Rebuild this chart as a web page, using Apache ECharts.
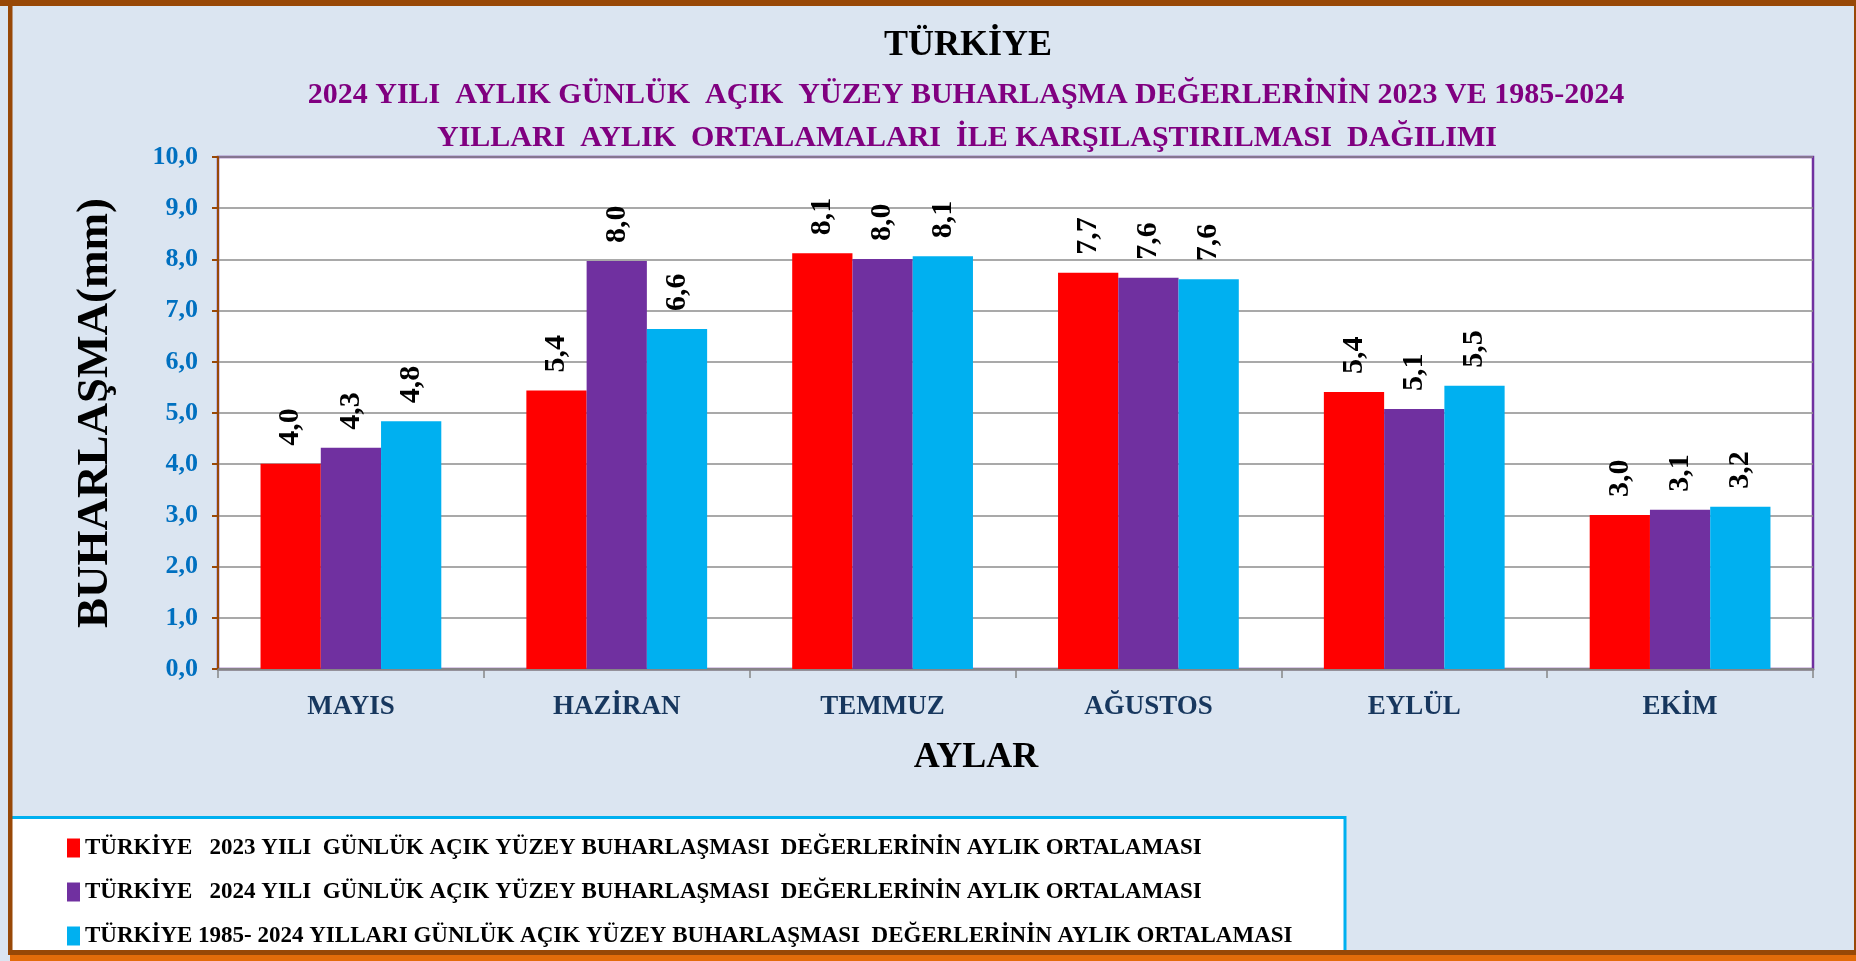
<!DOCTYPE html>
<html>
<head>
<meta charset="utf-8">
<script src="https://cdn.jsdelivr.net/npm/echarts@6/dist/echarts.min.js"></script>
<style>
html,body{margin:0;padding:0;background:#DBE5F1;}
#chart{width:1856px;height:961px;}
</style>
</head>
<body>
<div id="chart"></div>
<script>
const months = ['MAYIS', 'HAZİRAN', 'TEMMUZ', 'AĞUSTOS', 'EYLÜL', 'EKİM'];
const values2023 = [4.01, 5.44, 8.12, 7.74, 5.41, 3.01];
const values2024 = [4.32, 7.97, 8.01, 7.64, 5.08, 3.11];
const valuesNormal = [4.84, 6.64, 8.06, 7.61, 5.53, 3.17];
const seriesNames = [
  'TÜRKİYE   2023 YILI  GÜNLÜK AÇIK YÜZEY BUHARLAŞMASI  DEĞERLERİNİN AYLIK ORTALAMASI',
  'TÜRKİYE   2024 YILI  GÜNLÜK AÇIK YÜZEY BUHARLAŞMASI  DEĞERLERİNİN AYLIK ORTALAMASI',
  'TÜRKİYE 1985- 2024 YILLARI GÜNLÜK AÇIK YÜZEY BUHARLAŞMASI  DEĞERLERİNİN AYLIK ORTALAMASI'
];
const seriesColors = ['#FF0000', '#7030A0', '#00B0F0'];
const titleMain = 'TÜRKİYE';
const titleLine1 = '2024 YILI  AYLIK GÜNLÜK  AÇIK  YÜZEY BUHARLAŞMA DEĞERLERİNİN 2023 VE 1985-2024';
const titleLine2 = 'YILLARI  AYLIK  ORTALAMALARI  İLE KARŞILAŞTIRILMASI  DAĞILIMI';
const yAxisTitle = 'BUHARLAŞMA(mm)';
const xAxisTitle = 'AYLAR';

const serif = '"Liberation Serif", "Times New Roman", serif';
const fmt = v => Number(v).toFixed(1).replace('.', ',');

const chart = echarts.init(document.getElementById('chart'), null, {renderer: 'canvas'});

function makeSeries(i, data) {
  return {
    name: seriesNames[i],
    type: 'bar',
    data: data,
    barGap: '0%',
    barCategoryGap: '32%',
    itemStyle: {color: seriesColors[i]},
    label: {
      show: true,
      position: 'top',
      rotate: 90,
      align: 'left',
      verticalAlign: 'middle',
      distance: 18,
      formatter: p => fmt(p.value),
      fontFamily: serif,
      fontWeight: 'bold',
      fontSize: 30,
      color: '#000'
    },
    z: 3
  };
}

chart.setOption({
  backgroundColor: '#DBE5F1',
  animation: false,
  grid: {
    left: 218, right: 43, top: 157, bottom: 292,
    show: true,
    backgroundColor: '#FFFFFF',
    borderColor: '#7030A0',
    borderWidth: 2.5
  },
  legend: {
    orient: 'vertical',
    left: 62,
    top: 831,
    itemWidth: 13,
    itemHeight: 19,
    itemGap: 20,
    icon: 'rect',
    z: 10,
    textStyle: {fontFamily: serif, fontWeight: 'bold', fontSize: 23, color: '#000', lineHeight: 24},
    data: seriesNames
  },
  xAxis: {
    type: 'category',
    data: months,
    axisLine: {lineStyle: {color: '#868686', width: 2.5}},
    axisTick: {show: true, length: 9, lineStyle: {color: '#868686', width: 1.5}},
    axisLabel: {margin: 25, fontFamily: serif, fontWeight: 'bold', fontSize: 27, color: '#17375E'},
    splitLine: {show: false}
  },
  yAxis: {
    type: 'value',
    min: 0, max: 10, interval: 1,
    name: yAxisTitle,
    nameLocation: 'middle',
    nameGap: 100,
    nameTextStyle: {fontFamily: serif, fontWeight: 'bold', fontSize: 45, color: '#000'},
    axisLine: {show: true, lineStyle: {color: '#984807', width: 2}},
    axisTick: {show: true, length: 6, lineStyle: {color: '#984807', width: 2}},
    axisLabel: {margin: 20, formatter: v => fmt(v), fontFamily: serif, fontWeight: 'bold', fontSize: 26, color: '#0070C0'},
    splitLine: {show: true, lineStyle: {color: '#8C8C8C', width: 1.5}}
  },
  graphic: [
    {type: 'rect', z: 0, shape: {x: 10, y: 817.5, width: 1335, height: 134}, style: {fill: '#FFFFFF', stroke: '#00B0F0', lineWidth: 3}},
    {type: 'rect', z: 1, shape: {x: 0, y: 0, width: 1856, height: 6}, style: {fill: '#984807'}},
    {type: 'rect', z: 1, shape: {x: 8, y: 0, width: 4.5, height: 955}, style: {fill: '#984807'}},
    {type: 'rect', z: 1, shape: {x: 1854, y: 0, width: 2, height: 955}, style: {fill: '#984807'}},
    {type: 'rect', z: 1, shape: {x: 8, y: 950, width: 1848, height: 5}, style: {fill: '#984807'}},
    {type: 'rect', z: 1, shape: {x: 10, y: 955, width: 1846, height: 6}, style: {fill: '#E36C0A'}},
    {type: 'text', z: 5, x: 968, y: 46, style: {text: titleMain, fontFamily: serif, fontWeight: 'bold', fontSize: 36, fill: '#000', align: 'center', verticalAlign: 'middle'}},
    {type: 'text', z: 5, x: 966, y: 95, style: {text: titleLine1, fontFamily: serif, fontWeight: 'bold', fontSize: 30, fill: '#800080', align: 'center', verticalAlign: 'middle'}},
    {type: 'text', z: 5, x: 967, y: 138, style: {text: titleLine2, fontFamily: serif, fontWeight: 'bold', fontSize: 30, fill: '#800080', align: 'center', verticalAlign: 'middle'}},
    {type: 'text', z: 5, x: 976, y: 758, style: {text: xAxisTitle, fontFamily: serif, fontWeight: 'bold', fontSize: 36, fill: '#000', align: 'center', verticalAlign: 'middle'}}
  ],
  series: [
    makeSeries(0, values2023),
    makeSeries(1, values2024),
    makeSeries(2, valuesNormal)
  ]
});
</script>
</body>
</html>
